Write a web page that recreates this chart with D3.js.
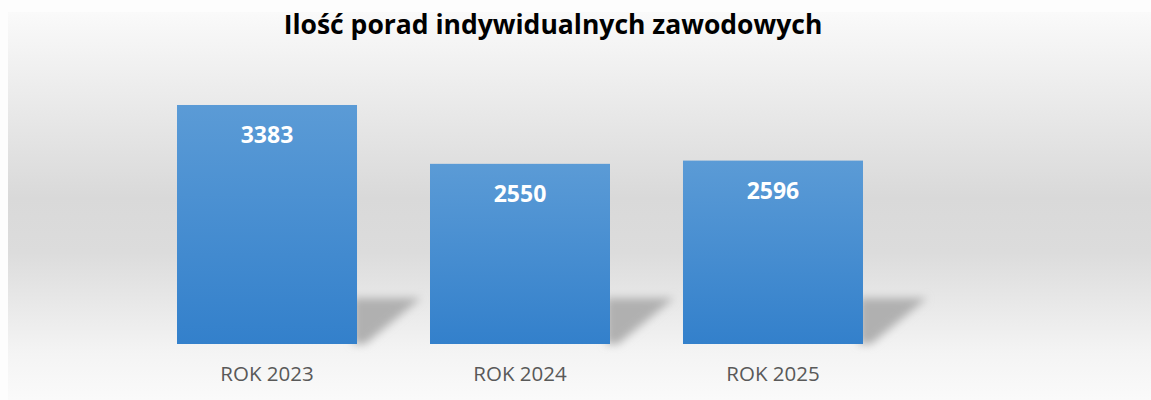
<!DOCTYPE html>
<meta charset="utf-8">
<style>
body { margin: 0; background: #fdfdfd; }
.title { font-family: 'Open Sans', sans-serif; font-weight: bold; font-size: 26.5px; fill: #000; text-anchor: middle; }
.value-label { font-family: 'Open Sans', sans-serif; font-weight: bold; font-size: 23px; fill: #fff; text-anchor: middle; }
.axis text { font-family: 'Open Sans', sans-serif; font-size: 20.5px; fill: #595959; }
.axis path, .axis line { stroke: none; }
</style>
<body>
<svg width="1151" height="400"></svg>
<script src="https://d3js.org/d3.v7.min.js"></script>
<script>
var categories = ["ROK 2023", "ROK 2024", "ROK 2025"];
var values = [3383, 2550, 2596];
var titleText = "Ilość porad indywidualnych zawodowych";

var svg = d3.select("svg"),
    baseline = 344;

var defs = svg.append("defs");

var bg = defs.append("linearGradient")
    .attr("id", "bg").attr("x1", 0).attr("y1", 0).attr("x2", 0).attr("y2", 1);
bg.append("stop").attr("offset", "0%").attr("stop-color", "#fafafa");
bg.append("stop").attr("offset", "48%").attr("stop-color", "#d9d9d9");
bg.append("stop").attr("offset", "62%").attr("stop-color", "#dcdcdc");
bg.append("stop").attr("offset", "88%").attr("stop-color", "#f4f4f4");
bg.append("stop").attr("offset", "100%").attr("stop-color", "#fafafa");

var barGrad = defs.append("linearGradient")
    .attr("id", "bar").attr("x1", 0).attr("y1", 0).attr("x2", 0).attr("y2", 1);
barGrad.append("stop").attr("offset", "0%").attr("stop-color", "#5b9bd6");
barGrad.append("stop").attr("offset", "100%").attr("stop-color", "#3380cb");

defs.append("filter").attr("id", "blur")
    .attr("x", "-50%").attr("y", "-50%").attr("width", "200%").attr("height", "200%")
  .append("feGaussianBlur").attr("stdDeviation", 4);

// background of the chart area
svg.append("rect")
    .attr("x", 8).attr("y", 12)
    .attr("width", 1143).attr("height", 388)
    .attr("fill", "url(#bg)");

svg.append("text")
    .attr("class", "title")
    .attr("x", 553).attr("y", 34)
    .text(titleText);

var x = d3.scaleBand()
    .domain(categories)
    .range([140.5, 899.5])
    .paddingInner(0.2885)
    .paddingOuter(0.1443);

var y = d3.scaleLinear()
    .domain([0, 4000])
    .range([baseline, baseline - 4000 * 0.07065]);

var data = categories.map(function(c, i) { return {cat: c, value: values[i]}; });

// shadows
svg.append("g").selectAll("path")
    .data(data)
  .enter().append("path")
    .attr("fill", "#b0b0b0")
    .attr("filter", "url(#blur)")
    .attr("d", function(d) {
      var r = x(d.cat) + x.bandwidth(), top = baseline - 46;
      return "M" + (r - 4) + "," + baseline +
             "L" + (r - 4) + "," + top +
             "L" + (r + 64) + "," + top +
             "L" + (r + 8) + "," + baseline + "Z";
    });

svg.append("g").selectAll("rect")
    .data(data)
  .enter().append("rect")
    .attr("x", function(d) { return x(d.cat); })
    .attr("y", function(d) { return y(d.value); })
    .attr("width", x.bandwidth())
    .attr("height", function(d) { return baseline - y(d.value); })
    .attr("fill", "url(#bar)");

svg.append("g").selectAll("text")
    .data(data)
  .enter().append("text")
    .attr("class", "value-label")
    .attr("x", function(d) { return x(d.cat) + x.bandwidth() / 2; })
    .attr("y", function(d) { return y(d.value) + 38; })
    .text(function(d) { return d.value; });

svg.append("g")
    .attr("class", "axis")
    .attr("transform", "translate(0," + baseline + ")")
    .call(d3.axisBottom(x).tickSize(0).tickPadding(22));
</script>
